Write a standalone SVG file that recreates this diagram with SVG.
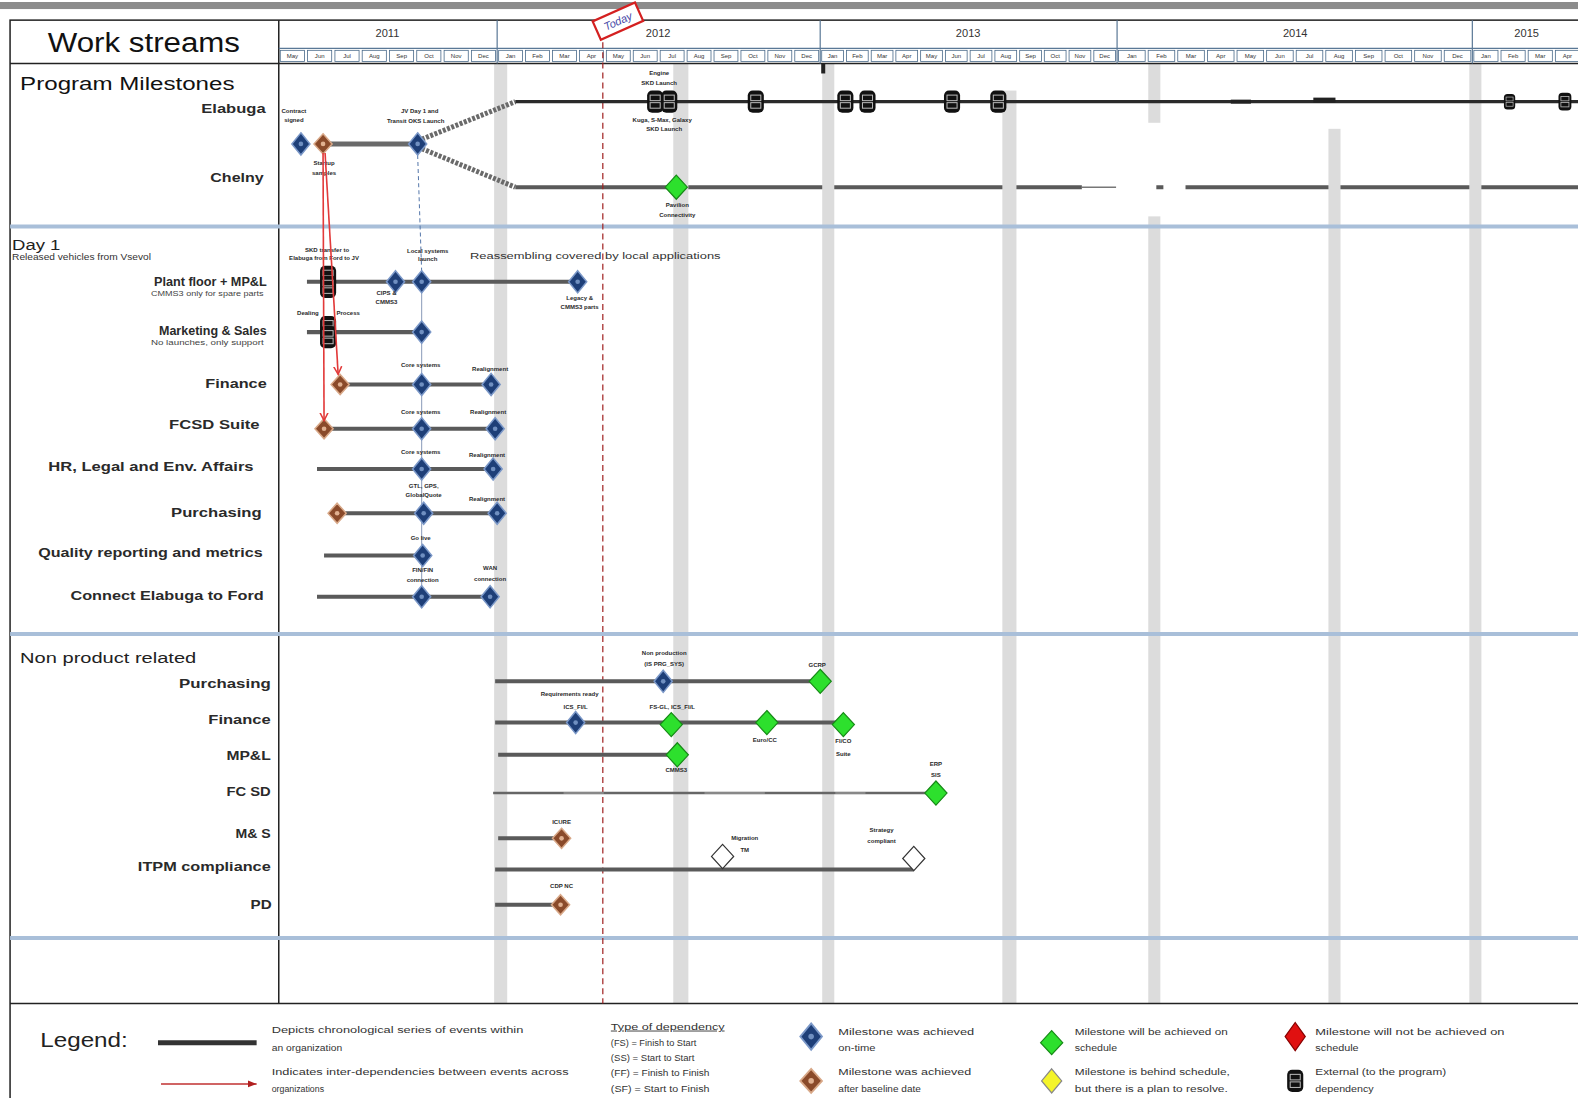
<svg xmlns="http://www.w3.org/2000/svg" width="1578" height="1098" viewBox="0 0 1578 1098">
<style>
text{font-family:"Liberation Sans",Arial,sans-serif}
.mc{fill:#fff;stroke:#4a6a8a;stroke-width:0.8}
.mt{font-size:6px;fill:#333;text-anchor:middle}
.yr{font-size:11px;fill:#333;text-anchor:middle}
.row{font-size:13px;font-weight:bold;fill:#2a2a2a;text-anchor:end}
.sub{font-size:8px;fill:#444;text-anchor:end}
.lb{font-size:6px;font-weight:bold;fill:#2a2a2a;text-anchor:middle}
.lg{font-size:9px;fill:#333}
.band{fill:#dcdcdc}
.tl{stroke:#5a5a5a;stroke-width:4;fill:none}
.sep{stroke:#a9bfd9;stroke-width:4}
.red{stroke:#e23a3a;stroke-width:1.6;fill:none;marker-end:url(#ah)}
.ydiv{stroke:#5a7896;stroke-width:1.2}
</style>
<defs>
<marker id="ah" markerWidth="10" markerHeight="10" refX="8" refY="5" orient="auto" markerUnits="userSpaceOnUse"><path d="M0,1 L8,5 L0,9" fill="none" stroke="#e23a3a" stroke-width="1.5"/></marker>
<marker id="ah2" markerWidth="10" markerHeight="10" refX="9" refY="5" orient="auto" markerUnits="userSpaceOnUse"><path d="M0,1.5 L9,5 L0,8.5 Z" fill="#b02020"/></marker>
<g id="dB"><path d="M0,-11 L9,0 L0,11 L-9,0 Z" fill="#1e3f78" stroke="#7b98c8" stroke-width="1.5"/><circle r="2.3" fill="#6f8fc0"/></g>
<g id="dBr"><path d="M0,-10 L9,0 L0,10 L-9,0 Z" fill="#8a4a2a" stroke="#d8a888" stroke-width="1.5"/><circle r="2.3" fill="#e0b090"/></g>
<g id="dG"><path d="M0,-12 L11,0 L0,12 L-11,0 Z" fill="#2de02d" stroke="#178a17" stroke-width="1.2"/></g>
<g id="dW"><path d="M0,-12 L11,0 L0,12 L-11,0 Z" fill="#fff" stroke="#333" stroke-width="1.2"/></g>
<g id="dY"><path d="M0,-12 L10,0 L0,12 L-10,0 Z" fill="#f4f42a" stroke="#888" stroke-width="1.2"/></g>
<g id="dR"><path d="M0,-14 L10,0 L0,14 L-10,0 Z" fill="#e01010" stroke="#800" stroke-width="1.2"/></g>
<g id="ext"><rect x="-8" y="-11" width="16" height="22" rx="5" fill="#111"/><rect x="-5" y="-6.5" width="10" height="5.5" fill="none" stroke="#bbb" stroke-width="1"/><rect x="-5" y="1" width="10" height="5.5" fill="none" stroke="#bbb" stroke-width="1"/></g>
</defs>
<rect x="0" y="0" width="1578" height="1098" fill="#fff"/>
<g transform="scale(1.00638,1.00642)">
<rect x="0" y="2" width="1568" height="7" fill="#8c8c8c"/>

<g id="chelny-line-back">
<path class="tl" d="M512,186 H1075 M1149,186 H1156 M1178,186 H1568" stroke-width="4.5"/>
<path d="M1075,186 H1109" stroke="#777" stroke-width="1.5"/>
</g>

<g id="bands">
<rect class="band" x="491" y="63" width="13" height="934"/>
<rect class="band" x="669" y="63" width="15" height="934"/>
<rect class="band" x="817" y="63" width="12" height="934"/>
<rect class="band" x="996" y="90" width="14" height="907"/>
<rect class="band" x="1141" y="63" width="12" height="59"/>
<rect class="band" x="1141" y="215" width="12" height="782"/>
<rect class="band" x="1320" y="128" width="12" height="869"/>
<rect class="band" x="1460" y="63" width="12" height="934"/>
</g>

<g id="frame">
<rect x="10" y="20" width="1570" height="1080" fill="none" stroke="#222" stroke-width="1.5"/>
<line x1="277" y1="20" x2="277" y2="997" stroke="#222" stroke-width="1.5"/>
<line x1="277" y1="48" x2="1568" y2="48" stroke="#5a7896" stroke-width="1.2"/>
<line x1="10" y1="63" x2="1568" y2="63" stroke="#222" stroke-width="1.5"/>
<line class="ydiv" x1="494" y1="20" x2="494" y2="63"/>
<line class="ydiv" x1="815" y1="20" x2="815" y2="63"/>
<line class="ydiv" x1="1110" y1="20" x2="1110" y2="63"/>
<line class="ydiv" x1="1463" y1="20" x2="1463" y2="63"/>
<line class="sep" x1="10" y1="225" x2="1568" y2="225"/>
<line class="sep" x1="10" y1="630" x2="1568" y2="630"/>
<line class="sep" x1="10" y1="932" x2="1568" y2="932"/>
<line x1="10" y1="997" x2="1568" y2="997" stroke="#222" stroke-width="1.5"/>
</g>

<g id="header">
<text x="143" y="52" font-size="28" fill="#111" text-anchor="middle" textLength="191" lengthAdjust="spacingAndGlyphs">Work streams</text>
<text class="yr" x="385" y="37">2011</text>
<text class="yr" x="654" y="37">2012</text>
<text class="yr" x="962" y="37">2013</text>
<text class="yr" x="1287" y="37">2014</text>
<text class="yr" x="1517" y="37">2015</text>
<g id="months">
<rect class="mc" x="278.5" y="50" width="24" height="11"/><text class="mt" x="290.6" y="58">May</text>
<rect class="mc" x="305.6" y="50" width="24" height="11"/><text class="mt" x="317.7" y="58">Jun</text>
<rect class="mc" x="332.8" y="50" width="24" height="11"/><text class="mt" x="344.8" y="58">Jul</text>
<rect class="mc" x="359.9" y="50" width="24" height="11"/><text class="mt" x="372" y="58">Aug</text>
<rect class="mc" x="387" y="50" width="24" height="11"/><text class="mt" x="399.1" y="58">Sep</text>
<rect class="mc" x="414.1" y="50" width="24" height="11"/><text class="mt" x="426.2" y="58">Oct</text>
<rect class="mc" x="441.3" y="50" width="24" height="11"/><text class="mt" x="453.3" y="58">Nov</text>
<rect class="mc" x="468.4" y="50" width="24" height="11"/><text class="mt" x="480.4" y="58">Dec</text>
<rect class="mc" x="495.5" y="50" width="23.75" height="11"/><text class="mt" x="507.4" y="58">Jan</text>
<rect class="mc" x="522.25" y="50" width="23.75" height="11"/><text class="mt" x="534.1" y="58">Feb</text>
<rect class="mc" x="549" y="50" width="23.75" height="11"/><text class="mt" x="560.9" y="58">Mar</text>
<rect class="mc" x="575.75" y="50" width="23.75" height="11"/><text class="mt" x="587.6" y="58">Apr</text>
<rect class="mc" x="602.5" y="50" width="23.75" height="11"/><text class="mt" x="614.4" y="58">May</text>
<rect class="mc" x="629.25" y="50" width="23.75" height="11"/><text class="mt" x="641.1" y="58">Jun</text>
<rect class="mc" x="656" y="50" width="23.75" height="11"/><text class="mt" x="667.9" y="58">Jul</text>
<rect class="mc" x="682.75" y="50" width="23.75" height="11"/><text class="mt" x="694.6" y="58">Aug</text>
<rect class="mc" x="709.5" y="50" width="23.75" height="11"/><text class="mt" x="721.4" y="58">Sep</text>
<rect class="mc" x="736.25" y="50" width="23.75" height="11"/><text class="mt" x="748.1" y="58">Oct</text>
<rect class="mc" x="763" y="50" width="23.75" height="11"/><text class="mt" x="774.9" y="58">Nov</text>
<rect class="mc" x="789.75" y="50" width="23.75" height="11"/><text class="mt" x="801.6" y="58">Dec</text>
<rect class="mc" x="816.5" y="50" width="21.6" height="11"/><text class="mt" x="827.3" y="58">Jan</text>
<rect class="mc" x="841.1" y="50" width="21.6" height="11"/><text class="mt" x="851.9" y="58">Feb</text>
<rect class="mc" x="865.7" y="50" width="21.6" height="11"/><text class="mt" x="876.5" y="58">Mar</text>
<rect class="mc" x="890.2" y="50" width="21.6" height="11"/><text class="mt" x="901" y="58">Apr</text>
<rect class="mc" x="914.8" y="50" width="21.6" height="11"/><text class="mt" x="925.6" y="58">May</text>
<rect class="mc" x="939.4" y="50" width="21.6" height="11"/><text class="mt" x="950.2" y="58">Jun</text>
<rect class="mc" x="964" y="50" width="21.6" height="11"/><text class="mt" x="974.8" y="58">Jul</text>
<rect class="mc" x="988.6" y="50" width="21.6" height="11"/><text class="mt" x="999.4" y="58">Aug</text>
<rect class="mc" x="1013.2" y="50" width="21.6" height="11"/><text class="mt" x="1024" y="58">Sep</text>
<rect class="mc" x="1037.7" y="50" width="21.6" height="11"/><text class="mt" x="1048.5" y="58">Oct</text>
<rect class="mc" x="1062.3" y="50" width="21.6" height="11"/><text class="mt" x="1073.1" y="58">Nov</text>
<rect class="mc" x="1086.9" y="50" width="21.6" height="11"/><text class="mt" x="1097.7" y="58">Dec</text>
<rect class="mc" x="1111.5" y="50" width="26.4" height="11"/><text class="mt" x="1124.7" y="58">Jan</text>
<rect class="mc" x="1140.9" y="50" width="26.4" height="11"/><text class="mt" x="1154.1" y="58">Feb</text>
<rect class="mc" x="1170.3" y="50" width="26.4" height="11"/><text class="mt" x="1183.5" y="58">Mar</text>
<rect class="mc" x="1199.8" y="50" width="26.4" height="11"/><text class="mt" x="1213" y="58">Apr</text>
<rect class="mc" x="1229.2" y="50" width="26.4" height="11"/><text class="mt" x="1242.4" y="58">May</text>
<rect class="mc" x="1258.6" y="50" width="26.4" height="11"/><text class="mt" x="1271.8" y="58">Jun</text>
<rect class="mc" x="1288" y="50" width="26.4" height="11"/><text class="mt" x="1301.2" y="58">Jul</text>
<rect class="mc" x="1317.4" y="50" width="26.4" height="11"/><text class="mt" x="1330.6" y="58">Aug</text>
<rect class="mc" x="1346.8" y="50" width="26.4" height="11"/><text class="mt" x="1360" y="58">Sep</text>
<rect class="mc" x="1376.3" y="50" width="26.4" height="11"/><text class="mt" x="1389.5" y="58">Oct</text>
<rect class="mc" x="1405.7" y="50" width="26.4" height="11"/><text class="mt" x="1418.9" y="58">Nov</text>
<rect class="mc" x="1435.1" y="50" width="26.4" height="11"/><text class="mt" x="1448.3" y="58">Dec</text>
<rect class="mc" x="1464.5" y="50" width="24" height="11"/><text class="mt" x="1476.5" y="58">Jan</text>
<rect class="mc" x="1491.5" y="50" width="24" height="11"/><text class="mt" x="1503.5" y="58">Feb</text>
<rect class="mc" x="1518.5" y="50" width="24" height="11"/><text class="mt" x="1530.5" y="58">Mar</text>
<rect class="mc" x="1545.5" y="50" width="24" height="11"/><text class="mt" x="1557.5" y="58">Apr</text>
</g>
</g>

<g id="today">
<line x1="599" y1="22" x2="599" y2="997" stroke="#a02020" stroke-width="1.2" stroke-dasharray="6,4"/>
<g transform="translate(614,21) rotate(-24)">
<rect x="-23" y="-10" width="46" height="20" fill="#fff" stroke="#d42020" stroke-width="2.2"/>
<text x="0" y="4" font-size="11" fill="#4a4aa8" font-style="italic" text-anchor="middle">Today</text>
</g>
</g>

<g id="connectors">
<path d="M321,143 H415" stroke="#6a6a6a" stroke-width="5"/>
<path d="M415,140 L512,101 M415,146 L512,186" stroke="#6a6a6a" stroke-width="5" stroke-dasharray="3,1.5"/>
<path d="M512,101 H1568" stroke="#2a2a2a" stroke-width="3.2"/>
<rect x="1223" y="99" width="20" height="4" fill="#222"/>
<rect x="1305" y="97" width="22" height="5" fill="#222"/>
<rect x="816" y="63" width="4" height="10" fill="#222"/>
<path d="M415,154 L419,270" stroke="#5577aa" stroke-width="1" stroke-dasharray="4,3"/>
<path d="M419,280 V593" stroke="#8a9ab8" stroke-width="1"/>
<path class="tl" d="M305,280 H574 M305,330 H419 M338,382 H488 M322,426 H492 M315,466 H490 M335,510 H494 M322,552 H420 M315,593 H487"/>
<path class="tl" d="M492,677 H815 M492,718 H838 M495,750 H673 M495,833 H558 M492,864 H908 M492,899 H557"/>
<path d="M490,788 H930" stroke="#666" stroke-width="2.5"/>
<path d="M560,788 H600 M700,788 H760 M830,788 H860" stroke="#aaa" stroke-width="1"/>
</g>

<g id="program-milestones">
<text x="20" y="89" font-size="18" fill="#111" textLength="213" lengthAdjust="spacingAndGlyphs">Program Milestones</text>
<text class="row" x="264" y="112" textLength="64" lengthAdjust="spacingAndGlyphs">Elabuga</text>
<text class="row" x="262" y="181" textLength="53" lengthAdjust="spacingAndGlyphs">Chelny</text>
<use href="#dB" x="299" y="143"/>
<use href="#dBr" x="321" y="143"/>
<use href="#dB" x="415" y="143"/>
<text class="lb" x="292" y="112">Contract</text>
<text class="lb" x="292" y="121">signed</text>
<text class="lb" x="322" y="164">Startup</text>
<text class="lb" x="322" y="174">samples</text>
<text class="lb" x="417" y="112">JV Day 1 and</text>
<text class="lb" x="413" y="122">Transit OKS Launch</text>
<use href="#ext" x="651" y="101"/>
<use href="#ext" x="665" y="101"/>
<use href="#ext" x="751" y="101"/>
<use href="#ext" x="840" y="101"/>
<use href="#ext" x="862" y="101"/>
<use href="#ext" x="946" y="101"/>
<use href="#ext" x="992" y="101"/>
<use href="#ext" x="1500" y="101" transform="translate(1500,101) scale(0.7) translate(-1500,-101)"/>
<use href="#ext" x="1555" y="101" transform="translate(1555,101) scale(0.8) translate(-1555,-101)"/>
<text class="lb" x="655" y="75">Engine</text>
<text class="lb" x="655" y="84">SKD Launch</text>
<text class="lb" x="658" y="121">Kuga, S-Max, Galaxy</text>
<text class="lb" x="660" y="130">SKD Launch</text>
<use href="#dG" x="672" y="186"/>
<text class="lb" x="673" y="206">Pavilion</text>
<text class="lb" x="673" y="216">Connectivity</text>
</g>

<g id="day1">
<text x="12" y="248" font-size="15" fill="#222" textLength="48" lengthAdjust="spacingAndGlyphs">Day 1</text>
<text x="12" y="258" font-size="8.5" fill="#333" textLength="138" lengthAdjust="spacingAndGlyphs">Released vehicles from Vsevol</text>
<text class="row" x="265" y="284" textLength="112" lengthAdjust="spacingAndGlyphs">Plant floor + MP&amp;L</text>
<text class="sub" x="262" y="294" textLength="112" lengthAdjust="spacingAndGlyphs">CMMS3 only for spare parts</text>
<text class="row" x="265" y="333" textLength="107" lengthAdjust="spacingAndGlyphs">Marketing &amp; Sales</text>
<text class="sub" x="262" y="343" textLength="112" lengthAdjust="spacingAndGlyphs">No launches, only support</text>
<text class="row" x="265" y="386" textLength="61" lengthAdjust="spacingAndGlyphs">Finance</text>
<text class="row" x="258" y="426" textLength="90" lengthAdjust="spacingAndGlyphs">FCSD Suite</text>
<text class="row" x="252" y="468" textLength="204" lengthAdjust="spacingAndGlyphs">HR, Legal and Env. Affairs</text>
<text class="row" x="260" y="514" textLength="90" lengthAdjust="spacingAndGlyphs">Purchasing</text>
<text class="row" x="261" y="553" textLength="223" lengthAdjust="spacingAndGlyphs">Quality reporting and metrics</text>
<text class="row" x="262" y="596" textLength="192" lengthAdjust="spacingAndGlyphs">Connect Elabuga to Ford</text>
<use href="#ext" x="326" y="275"/>
<use href="#ext" x="326" y="285"/>
<use href="#dB" x="393" y="280"/>
<use href="#dB" x="419" y="280"/>
<use href="#dB" x="574" y="280"/>
<use href="#ext" x="326" y="325"/>
<use href="#ext" x="326" y="335"/>
<use href="#dB" x="419" y="330"/>
<use href="#dBr" x="338" y="382"/>
<use href="#dB" x="419" y="382"/>
<use href="#dB" x="488" y="382"/>
<use href="#dBr" x="322" y="426"/>
<use href="#dB" x="419" y="426"/>
<use href="#dB" x="492" y="426"/>
<use href="#dB" x="419" y="466"/>
<use href="#dB" x="490" y="466"/>
<use href="#dBr" x="335" y="510"/>
<use href="#dB" x="421" y="510"/>
<use href="#dB" x="494" y="510"/>
<use href="#dB" x="420" y="552"/>
<use href="#dB" x="419" y="593"/>
<use href="#dB" x="487" y="593"/>
<text class="lb" x="325" y="250">SKD transfer to</text>
<text class="lb" x="322" y="258">Elabuga from Ford to JV</text>
<text class="lb" x="425" y="251">Local systems</text>
<text class="lb" x="425" y="259">launch</text>
<text x="467" y="257" font-size="9" fill="#333" textLength="249" lengthAdjust="spacingAndGlyphs">Reassembling covered by local applications</text>
<text class="lb" x="384" y="293">CIPS &amp;</text>
<text class="lb" x="384" y="302">CMMS3</text>
<text class="lb" x="576" y="298">Legacy &amp;</text>
<text class="lb" x="576" y="307">CMMS3 parts</text>
<text class="lb" x="306" y="313">Dealing</text>
<text class="lb" x="346" y="313">Process</text>
<text class="lb" x="418" y="365">Core systems</text>
<text class="lb" x="487" y="369">Realignment</text>
<text class="lb" x="418" y="411">Core systems</text>
<text class="lb" x="485" y="411">Realignment</text>
<text class="lb" x="418" y="451">Core systems</text>
<text class="lb" x="484" y="454">Realignment</text>
<text class="lb" x="421" y="485">GTL, GPS,</text>
<text class="lb" x="421" y="494">GlobalQuote</text>
<text class="lb" x="484" y="498">Realignment</text>
<text class="lb" x="418" y="537">Go live</text>
<text class="lb" x="420" y="568">FIN/FIN</text>
<text class="lb" x="420" y="578">connection</text>
<text class="lb" x="487" y="566">WAN</text>
<text class="lb" x="487" y="577">connection</text>
</g>

<g id="dependency-arrows">
<path class="red" d="M321,152 L322,418"/>
<path class="red" d="M323,152 L336,372"/>
</g>

<g id="non-product">
<text x="20" y="659" font-size="15" fill="#222" textLength="175" lengthAdjust="spacingAndGlyphs">Non product related</text>
<text class="row" x="269" y="684" textLength="91" lengthAdjust="spacingAndGlyphs">Purchasing</text>
<text class="row" x="269" y="719" textLength="62" lengthAdjust="spacingAndGlyphs">Finance</text>
<text class="row" x="269" y="755" textLength="44" lengthAdjust="spacingAndGlyphs">MP&amp;L</text>
<text class="row" x="269" y="791" textLength="44" lengthAdjust="spacingAndGlyphs">FC SD</text>
<text class="row" x="269" y="833" textLength="35" lengthAdjust="spacingAndGlyphs">M&amp; S</text>
<text class="row" x="269" y="865" textLength="132" lengthAdjust="spacingAndGlyphs">ITPM compliance</text>
<text class="row" x="270" y="903" textLength="21" lengthAdjust="spacingAndGlyphs">PD</text>
<use href="#dB" x="659" y="677"/>
<use href="#dG" x="815" y="677"/>
<use href="#dB" x="572" y="718"/>
<use href="#dG" x="667" y="720"/>
<use href="#dG" x="762" y="718"/>
<use href="#dG" x="838" y="720"/>
<use href="#dG" x="673" y="750"/>
<use href="#dG" x="930" y="788"/>
<use href="#dBr" x="558" y="833"/>
<use href="#dW" x="718" y="851"/>
<use href="#dW" x="908" y="853"/>
<use href="#dBr" x="557" y="899"/>
<text class="lb" x="660" y="651">Non production</text>
<text class="lb" x="660" y="662">(IS PRG_SYS)</text>
<text class="lb" x="812" y="663">GCRP</text>
<text class="lb" x="566" y="692">Requirements ready</text>
<text class="lb" x="572" y="704">ICS_FI/L</text>
<text class="lb" x="668" y="704">FS-GL, ICS_FI/L</text>
<text class="lb" x="760" y="737">Euro/CC</text>
<text class="lb" x="838" y="738">FI/CO</text>
<text class="lb" x="838" y="751">Suite</text>
<text class="lb" x="672" y="767">CMMS3</text>
<text class="lb" x="930" y="761">ERP</text>
<text class="lb" x="930" y="772">SIS</text>
<text class="lb" x="558" y="819">ICURE</text>
<text class="lb" x="740" y="835">Migration</text>
<text class="lb" x="740" y="847">TM</text>
<text class="lb" x="876" y="827">Strategy</text>
<text class="lb" x="876" y="838">compliant</text>
<text class="lb" x="558" y="882">CDP NC</text>
</g>

<g id="legend">
<text x="40" y="1040" font-size="20" fill="#222" textLength="87" lengthAdjust="spacingAndGlyphs">Legend:</text>
<line x1="157" y1="1036" x2="255" y2="1036" stroke="#333" stroke-width="5"/>
<line x1="160" y1="1077" x2="255" y2="1077" stroke="#c03030" stroke-width="1.5" marker-end="url(#ah2)"/>
<text class="lg" x="270" y="1026" textLength="250" lengthAdjust="spacingAndGlyphs">Depicts chronological series of events within</text>
<text class="lg" x="270" y="1044" textLength="70" lengthAdjust="spacingAndGlyphs">an organization</text>
<text class="lg" x="270" y="1068" textLength="295" lengthAdjust="spacingAndGlyphs">Indicates inter-dependencies between events across</text>
<text class="lg" x="270" y="1085" textLength="52" lengthAdjust="spacingAndGlyphs">organizations</text>
<text class="lg" x="607" y="1023" text-decoration="underline" textLength="113" lengthAdjust="spacingAndGlyphs">Type of dependency</text>
<text class="lg" x="607" y="1039" textLength="85" lengthAdjust="spacingAndGlyphs">(FS) = Finish to Start</text>
<text class="lg" x="607" y="1054" textLength="83" lengthAdjust="spacingAndGlyphs">(SS) = Start to Start</text>
<text class="lg" x="607" y="1069" textLength="98" lengthAdjust="spacingAndGlyphs">(FF) = Finish to Finish</text>
<text class="lg" x="607" y="1085" textLength="98" lengthAdjust="spacingAndGlyphs">(SF) = Start to Finish</text>
<use href="#dB" x="806" y="1030" transform="translate(806,1030) scale(1.2) translate(-806,-1030)"/>
<text class="lg" x="833" y="1028" textLength="135" lengthAdjust="spacingAndGlyphs">Milestone was achieved</text>
<text class="lg" x="833" y="1044" textLength="37" lengthAdjust="spacingAndGlyphs">on-time</text>
<use href="#dBr" x="806" y="1074" transform="translate(806,1074) scale(1.2) translate(-806,-1074)"/>
<text class="lg" x="833" y="1068" textLength="132" lengthAdjust="spacingAndGlyphs">Milestone was achieved</text>
<text class="lg" x="833" y="1085" textLength="82" lengthAdjust="spacingAndGlyphs">after baseline date</text>
<use href="#dG" x="1045" y="1036"/>
<text class="lg" x="1068" y="1028" textLength="152" lengthAdjust="spacingAndGlyphs">Milestone will be achieved on</text>
<text class="lg" x="1068" y="1044" textLength="42" lengthAdjust="spacingAndGlyphs">schedule</text>
<use href="#dY" x="1045" y="1074"/>
<text class="lg" x="1068" y="1068" textLength="154" lengthAdjust="spacingAndGlyphs">Milestone is behind schedule,</text>
<text class="lg" x="1068" y="1085" textLength="152" lengthAdjust="spacingAndGlyphs">but there is a plan to resolve.</text>
<use href="#dR" x="1287" y="1030"/>
<text class="lg" x="1307" y="1028" textLength="188" lengthAdjust="spacingAndGlyphs">Milestone will not be achieved on</text>
<text class="lg" x="1307" y="1044" textLength="43" lengthAdjust="spacingAndGlyphs">schedule</text>
<use href="#ext" x="1287" y="1074"/>
<text class="lg" x="1307" y="1068" textLength="130" lengthAdjust="spacingAndGlyphs">External (to the program)</text>
<text class="lg" x="1307" y="1085" textLength="58" lengthAdjust="spacingAndGlyphs">dependency</text>
</g>
</g>
</svg>
